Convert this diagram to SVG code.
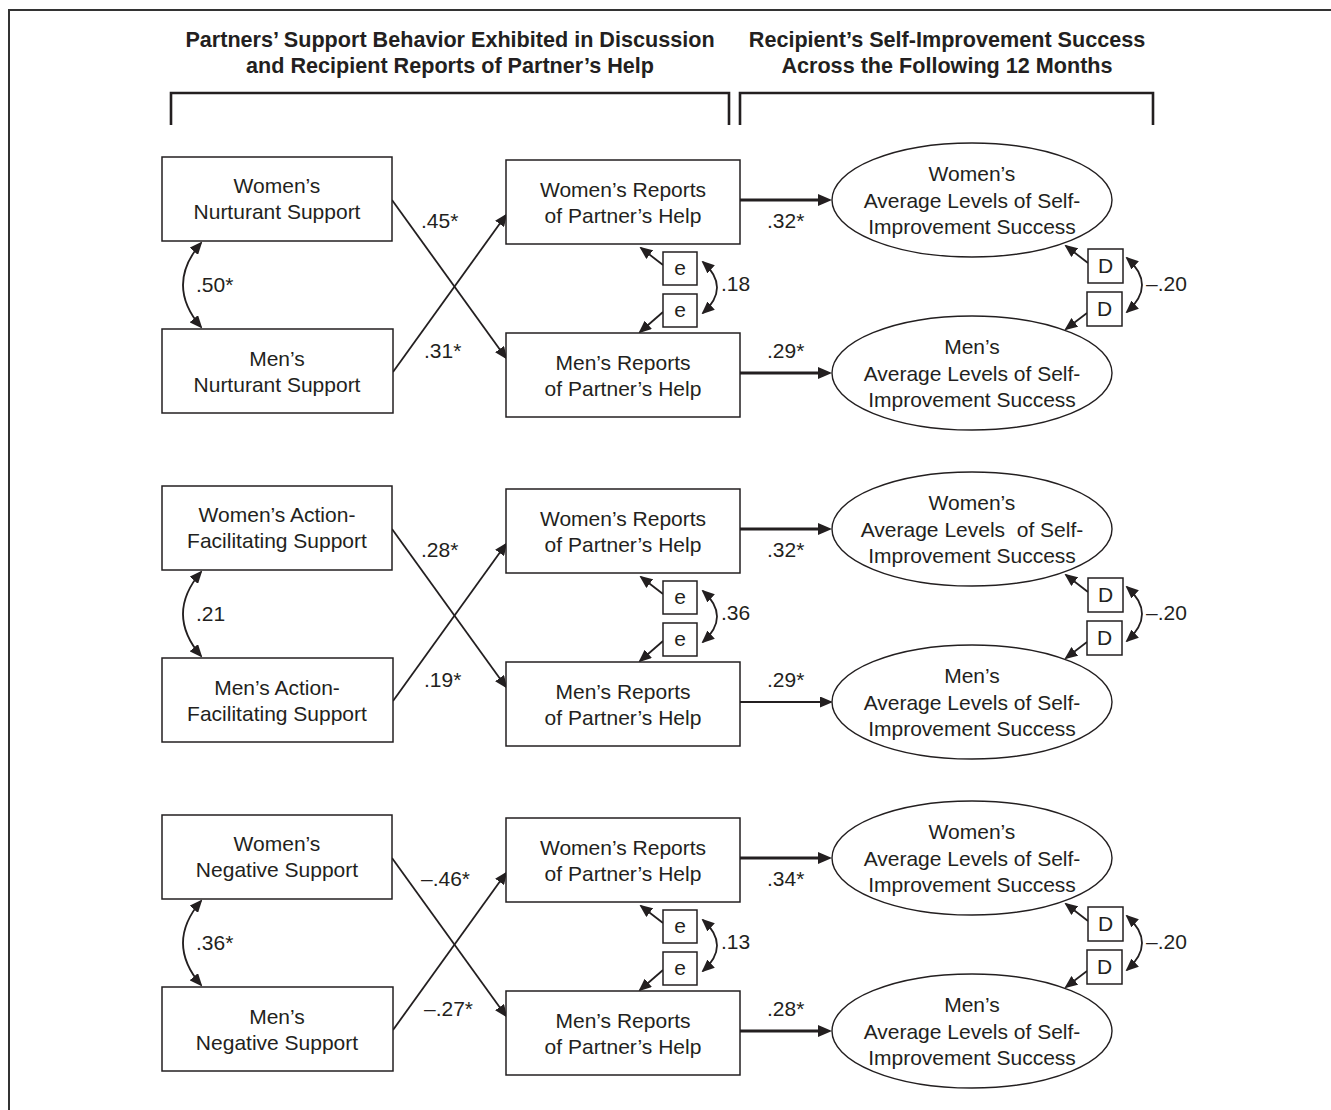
<svg xmlns="http://www.w3.org/2000/svg" width="1331" height="1110" viewBox="0 0 1331 1110">
<defs>
<style>
text{font-family:"Liberation Sans",Arial,Helvetica,sans-serif;font-size:21px;fill:#231f20}
.h{font-weight:bold;text-anchor:middle;font-size:21.6px}
.c{text-anchor:middle}
.box{fill:#fff;stroke:#231f20;stroke-width:1.5}
.ell{fill:#fff;stroke:#231f20;stroke-width:1.4}
.ln{fill:none;stroke:#231f20;stroke-width:1.8}
.thk{fill:none;stroke:#231f20;stroke-width:3.2}
.br{fill:none;stroke:#231f20;stroke-width:2.6}
.frame{fill:none;stroke:#333;stroke-width:2}
</style>
<marker id="ah" markerUnits="userSpaceOnUse" markerWidth="13" markerHeight="11" refX="11" refY="5.5" orient="auto-start-reverse"><path d="M0,0 L13,5.5 L0,11 z" fill="#231f20"/></marker>
<marker id="ahb" markerUnits="userSpaceOnUse" markerWidth="14" markerHeight="12" refX="8" refY="6" orient="auto"><path d="M0,0 L14,6 L0,12 z" fill="#231f20"/></marker>
</defs>
<rect width="1331" height="1110" fill="#fff"/>
<path class="frame" d="M9,1110 V10 H1331"/>
<g id="header">
<text class="h" x="450" y="47">Partners’ Support Behavior Exhibited in Discussion</text>
<text class="h" x="450" y="73">and Recipient Reports of Partner’s Help</text>
<text class="h" x="947" y="47">Recipient’s Self-Improvement Success</text>
<text class="h" x="947" y="73">Across the Following 12 Months</text>
<path class="br" d="M171,125 V93 H729 V125"/>
<path class="br" d="M740,125 V93 H1153 V125"/>
</g>

<!-- Section 1: Nurturant -->
<g id="section1">
<g id="connectors1">
<path class="ln" d="M201,243 Q165,285 201,327" marker-start="url(#ah)" marker-end="url(#ah)"/>
<path class="ln" d="M392,200 L506,358" marker-end="url(#ah)"/>
<path class="ln" d="M393,372 L506,215" marker-end="url(#ah)"/>
<path class="ln" d="M663,265 L641,248" marker-end="url(#ah)"/>
<path class="ln" d="M663,312 L640,332" marker-end="url(#ah)"/>
<path class="ln" d="M703,262 Q731,287.5 703,313" marker-start="url(#ah)" marker-end="url(#ah)"/>
<path class="thk" d="M740,200 L826,200" marker-end="url(#ahb)"/>
<path class="thk" d="M740,373 L826,373" marker-end="url(#ahb)"/>
<path class="ln" d="M1088,263 L1066,246" marker-end="url(#ah)"/>
<path class="ln" d="M1087,313 L1066,329" marker-end="url(#ah)"/>
<path class="ln" d="M1127,258 Q1157,285 1127,312" marker-start="url(#ah)" marker-end="url(#ah)"/>
<text x="196" y="291.5">.50*</text>
<text x="421" y="228">.45*</text>
<text x="424" y="358">.31*</text>
<text x="721" y="291">.18</text>
<text x="767" y="228">.32*</text>
<text x="767" y="358">.29*</text>
<text x="1146" y="291">–.20</text>
</g>
<g id="wn1"><rect class="box" x="162" y="157" width="230" height="84"/><text class="c" x="277" y="192.5">Women’s</text><text class="c" x="277" y="219">Nurturant Support</text></g>
<g id="mn1"><rect class="box" x="162" y="329" width="231" height="84"/><text class="c" x="277" y="365.5">Men’s</text><text class="c" x="277" y="392">Nurturant Support</text></g>
<g id="wr1"><rect class="box" x="506" y="160" width="234" height="84"/><text class="c" x="623" y="196.5">Women’s Reports</text><text class="c" x="623" y="223">of Partner’s Help</text></g>
<g id="mr1"><rect class="box" x="506" y="333" width="234" height="84"/><text class="c" x="623" y="369.5">Men’s Reports</text><text class="c" x="623" y="396">of Partner’s Help</text></g>
<g id="e1a"><rect class="box" x="663" y="252" width="34" height="33"/><text class="c" x="680" y="275">e</text></g>
<g id="e1b"><rect class="box" x="663" y="294" width="34" height="33"/><text class="c" x="680" y="317">e</text></g>
<g id="ew1"><ellipse class="ell" cx="972" cy="200" rx="140" ry="57"/><text class="c" x="972" y="181">Women’s</text><text class="c" x="972" y="208">Average Levels of Self-</text><text class="c" x="972" y="233.5">Improvement Success</text></g>
<g id="em1"><ellipse class="ell" cx="972" cy="373" rx="140" ry="57"/><text class="c" x="972" y="354">Men’s</text><text class="c" x="972" y="381">Average Levels of Self-</text><text class="c" x="972" y="406.5">Improvement Success</text></g>
<g id="d1a"><rect class="box" x="1088" y="249" width="35" height="34"/><text class="c" x="1105.5" y="273">D</text></g>
<g id="d1b"><rect class="box" x="1087" y="292" width="35" height="34"/><text class="c" x="1104.5" y="316">D</text></g>
</g>

<!-- Section 2: Action-Facilitating -->
<g id="section2" transform="translate(0,329)">
<g id="connectors2">
<path class="ln" d="M201,243 Q165,285 201,327" marker-start="url(#ah)" marker-end="url(#ah)"/>
<path class="ln" d="M392,200 L506,358" marker-end="url(#ah)"/>
<path class="ln" d="M393,372 L506,215" marker-end="url(#ah)"/>
<path class="ln" d="M663,265 L641,248" marker-end="url(#ah)"/>
<path class="ln" d="M663,312 L640,332" marker-end="url(#ah)"/>
<path class="ln" d="M703,262 Q731,287.5 703,313" marker-start="url(#ah)" marker-end="url(#ah)"/>
<path class="thk" d="M740,200 L826,200" marker-end="url(#ahb)"/>
<path class="ln" d="M740,373 L831,373" marker-end="url(#ah)"/>
<path class="ln" d="M1088,263 L1066,246" marker-end="url(#ah)"/>
<path class="ln" d="M1087,313 L1066,329" marker-end="url(#ah)"/>
<path class="ln" d="M1127,258 Q1157,285 1127,312" marker-start="url(#ah)" marker-end="url(#ah)"/>
<text x="196" y="291.5">.21</text>
<text x="421" y="228">.28*</text>
<text x="424" y="358">.19*</text>
<text x="721" y="291">.36</text>
<text x="767" y="228">.32*</text>
<text x="767" y="358">.29*</text>
<text x="1146" y="291">–.20</text>
</g>
<g id="wa2"><rect class="box" x="162" y="157" width="230" height="84"/><text class="c" x="277" y="192.5">Women’s Action-</text><text class="c" x="277" y="219">Facilitating Support</text></g>
<g id="ma2"><rect class="box" x="162" y="329" width="231" height="84"/><text class="c" x="277" y="365.5">Men’s Action-</text><text class="c" x="277" y="392">Facilitating Support</text></g>
<g id="wr2"><rect class="box" x="506" y="160" width="234" height="84"/><text class="c" x="623" y="196.5">Women’s Reports</text><text class="c" x="623" y="223">of Partner’s Help</text></g>
<g id="mr2"><rect class="box" x="506" y="333" width="234" height="84"/><text class="c" x="623" y="369.5">Men’s Reports</text><text class="c" x="623" y="396">of Partner’s Help</text></g>
<g id="e2a"><rect class="box" x="663" y="252" width="34" height="33"/><text class="c" x="680" y="275">e</text></g>
<g id="e2b"><rect class="box" x="663" y="294" width="34" height="33"/><text class="c" x="680" y="317">e</text></g>
<g id="ew2"><ellipse class="ell" cx="972" cy="200" rx="140" ry="57"/><text class="c" x="972" y="181">Women’s</text><text class="c" x="972" y="208" xml:space="preserve" style="white-space:pre">Average Levels  of Self-</text><text class="c" x="972" y="233.5">Improvement Success</text></g>
<g id="em2"><ellipse class="ell" cx="972" cy="373" rx="140" ry="57"/><text class="c" x="972" y="354">Men’s</text><text class="c" x="972" y="381">Average Levels of Self-</text><text class="c" x="972" y="406.5">Improvement Success</text></g>
<g id="d2a"><rect class="box" x="1088" y="249" width="35" height="34"/><text class="c" x="1105.5" y="273">D</text></g>
<g id="d2b"><rect class="box" x="1087" y="292" width="35" height="34"/><text class="c" x="1104.5" y="316">D</text></g>
</g>

<!-- Section 3: Negative -->
<g id="section3" transform="translate(0,658)">
<g id="connectors3">
<path class="ln" d="M201,243 Q165,285 201,327" marker-start="url(#ah)" marker-end="url(#ah)"/>
<path class="ln" d="M392,200 L506,358" marker-end="url(#ah)"/>
<path class="ln" d="M393,372 L506,215" marker-end="url(#ah)"/>
<path class="ln" d="M663,265 L641,248" marker-end="url(#ah)"/>
<path class="ln" d="M663,312 L640,332" marker-end="url(#ah)"/>
<path class="ln" d="M703,262 Q731,287.5 703,313" marker-start="url(#ah)" marker-end="url(#ah)"/>
<path class="thk" d="M740,200 L826,200" marker-end="url(#ahb)"/>
<path class="thk" d="M740,373 L826,373" marker-end="url(#ahb)"/>
<path class="ln" d="M1088,263 L1066,246" marker-end="url(#ah)"/>
<path class="ln" d="M1087,313 L1066,329" marker-end="url(#ah)"/>
<path class="ln" d="M1127,258 Q1157,285 1127,312" marker-start="url(#ah)" marker-end="url(#ah)"/>
<text x="196" y="291.5">.36*</text>
<text x="421" y="228">–.46*</text>
<text x="424" y="358">–.27*</text>
<text x="721" y="291">.13</text>
<text x="767" y="228">.34*</text>
<text x="767" y="358">.28*</text>
<text x="1146" y="291">–.20</text>
</g>
<g id="wg3"><rect class="box" x="162" y="157" width="230" height="84"/><text class="c" x="277" y="192.5">Women’s</text><text class="c" x="277" y="219">Negative Support</text></g>
<g id="mg3"><rect class="box" x="162" y="329" width="231" height="84"/><text class="c" x="277" y="365.5">Men’s</text><text class="c" x="277" y="392">Negative Support</text></g>
<g id="wr3"><rect class="box" x="506" y="160" width="234" height="84"/><text class="c" x="623" y="196.5">Women’s Reports</text><text class="c" x="623" y="223">of Partner’s Help</text></g>
<g id="mr3"><rect class="box" x="506" y="333" width="234" height="84"/><text class="c" x="623" y="369.5">Men’s Reports</text><text class="c" x="623" y="396">of Partner’s Help</text></g>
<g id="e3a"><rect class="box" x="663" y="252" width="34" height="33"/><text class="c" x="680" y="275">e</text></g>
<g id="e3b"><rect class="box" x="663" y="294" width="34" height="33"/><text class="c" x="680" y="317">e</text></g>
<g id="ew3"><ellipse class="ell" cx="972" cy="200" rx="140" ry="57"/><text class="c" x="972" y="181">Women’s</text><text class="c" x="972" y="208">Average Levels of Self-</text><text class="c" x="972" y="233.5">Improvement Success</text></g>
<g id="em3"><ellipse class="ell" cx="972" cy="373" rx="140" ry="57"/><text class="c" x="972" y="354">Men’s</text><text class="c" x="972" y="381">Average Levels of Self-</text><text class="c" x="972" y="406.5">Improvement Success</text></g>
<g id="d3a"><rect class="box" x="1088" y="249" width="35" height="34"/><text class="c" x="1105.5" y="273">D</text></g>
<g id="d3b"><rect class="box" x="1087" y="292" width="35" height="34"/><text class="c" x="1104.5" y="316">D</text></g>
</g>
</svg>
